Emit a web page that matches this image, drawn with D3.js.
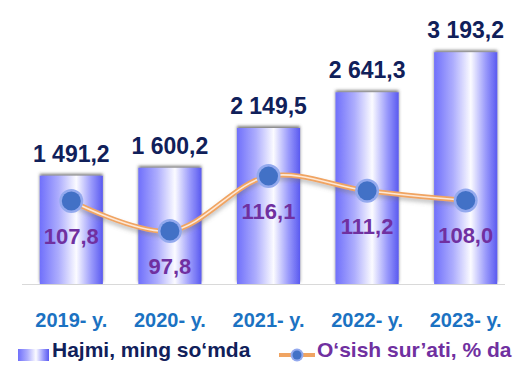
<!DOCTYPE html>
<html>
<head>
<meta charset="utf-8">
<script src="https://cdn.jsdelivr.net/npm/d3@7"></script>
<style>
  body { margin: 0; background: #fff; }
  svg { display: block; font-family: "Liberation Sans", Arial, sans-serif; font-weight: bold; }
</style>
</head>
<body>
<svg id="chart" width="528" height="373"></svg>
<script>
//DATA//////////////////////////////////
var years = ["2019- y.", "2020- y.", "2021- y.", "2022- y.", "2023- y."];
var volume = [1491.2, 1600.2, 2149.5, 2641.3, 3193.2];
var growth = [107.8, 97.8, 116.1, 111.2, 108.0];
var legendLabels = ["Hajmi, ming so\u2018mda", "O\u2018sish sur\u2019ati, % da"];

//SETUP/////////////////////////////////
var svg = d3.select("#chart");
var baseY = 284;

var locale = d3.formatLocale({ decimal: ",", thousands: " ", grouping: [3] });
var fmt = locale.format(",.1f");

var x = d3.scaleBand()
  .domain(years)
  .range([22, 515])
  .paddingInner(0.36)
  .paddingOuter(0.18);

var yBar = d3.scaleLinear().domain([0, 3500]).range([baseY, 30]);
var yLine = d3.scaleLinear().domain([80, 120]).range([284.4, 164.4]);

var defs = svg.append("defs");

// cylinder-like gradient
var grad = defs.append("linearGradient")
  .attr("id", "barGrad")
  .attr("x1", "0%").attr("x2", "100%").attr("y1", "0%").attr("y2", "0%");
grad.append("stop").attr("offset", "0%").attr("stop-color", "#7070fb");
grad.append("stop").attr("offset", "30%").attr("stop-color", "#adadfd");
grad.append("stop").attr("offset", "58%").attr("stop-color", "#fbfbff");
grad.append("stop").attr("offset", "82%").attr("stop-color", "#9999fb");
grad.append("stop").attr("offset", "100%").attr("stop-color", "#5a5af0");

// soft shadow on top of bars
var shTop = defs.append("filter").attr("id", "shTop")
  .attr("x", "-20%").attr("y", "-20%").attr("width", "140%").attr("height", "140%");
shTop.append("feDropShadow")
  .attr("dx", 0).attr("dy", -2).attr("stdDeviation", 1.8)
  .attr("flood-color", "#444").attr("flood-opacity", 0.7);

// shadow under the line
var shLine = defs.append("filter").attr("id", "shLine")
  .attr("x", "-10%").attr("y", "-30%").attr("width", "120%").attr("height", "160%");
shLine.append("feDropShadow")
  .attr("dx", 0).attr("dy", 3).attr("stdDeviation", 2)
  .attr("flood-color", "#777").attr("flood-opacity", 0.45);

//AXIS LINE/////////////////////////////
svg.append("line")
  .attr("x1", 22).attr("x2", 505)
  .attr("y1", baseY + 0.5).attr("y2", baseY + 0.5)
  .attr("stroke", "#d9d9d9").attr("stroke-width", 1);

//BARS//////////////////////////////////
svg.append("g").selectAll("rect")
  .data(volume)
  .join("rect")
  .attr("x", (d, i) => x(years[i]))
  .attr("y", d => yBar(d))
  .attr("width", x.bandwidth())
  .attr("height", d => baseY - yBar(d))
  .attr("fill", "url(#barGrad)")
  .attr("filter", "url(#shTop)");

svg.append("g").selectAll("text")
  .data(volume)
  .join("text")
  .attr("x", (d, i) => x(years[i]) + x.bandwidth() / 2)
  .attr("y", d => yBar(d) - 14)
  .attr("text-anchor", "middle")
  .attr("font-size", 23)
  .attr("fill", "#10205a")
  .text(d => fmt(d));

//LINE//////////////////////////////////
var cx = (d, i) => x(years[i]) + x.bandwidth() / 2;
var lineGen = d3.line()
  .x(cx)
  .y(d => yLine(d))
  .curve(d3.curveCatmullRom.alpha(0.5));

svg.append("path")
  .datum(growth)
  .attr("d", lineGen)
  .attr("fill", "none")
  .attr("stroke", "#f0a462")
  .attr("stroke-width", 5)
  .attr("filter", "url(#shLine)");
svg.append("path")
  .datum(growth)
  .attr("d", lineGen)
  .attr("fill", "none")
  .attr("stroke", "#fde8d6")
  .attr("stroke-width", 1.6);

var pts = svg.append("g").selectAll("g")
  .data(growth)
  .join("g")
  .attr("transform", (d, i) => "translate(" + cx(d, i) + "," + yLine(d) + ")");
pts.append("circle").attr("r", 12).attr("fill", "#93a9ee");
pts.append("circle").attr("r", 9.5).attr("fill", "#4271c6");

svg.append("g").selectAll("text")
  .data(growth)
  .join("text")
  .attr("x", cx)
  .attr("y", d => yLine(d) + 43)
  .attr("text-anchor", "middle")
  .attr("font-size", 22)
  .attr("fill", "#7030a0")
  .text(d => fmt(d));

//CATEGORY LABELS///////////////////////
svg.append("g").selectAll("text")
  .data(years)
  .join("text")
  .attr("x", d => x(d) + x.bandwidth() / 2)
  .attr("y", 327)
  .attr("text-anchor", "middle")
  .attr("font-size", 20)
  .attr("fill", "#1b72c2")
  .text(d => d);

//LEGEND////////////////////////////////
var lg = svg.append("g");
lg.append("rect")
  .attr("x", 18).attr("y", 349)
  .attr("width", 31).attr("height", 12)
  .attr("fill", "url(#barGrad)");
lg.append("text")
  .attr("x", 52).attr("y", 357)
  .attr("font-size", 21)
  .attr("fill", "#10205a")
  .text(legendLabels[0]);

lg.append("line")
  .attr("x1", 279).attr("x2", 315)
  .attr("y1", 355).attr("y2", 355)
  .attr("stroke", "#f0a462").attr("stroke-width", 4);
lg.append("circle").attr("cx", 297).attr("cy", 355).attr("r", 6.5).attr("fill", "#93a9ee");
lg.append("circle").attr("cx", 297).attr("cy", 355).attr("r", 4.5).attr("fill", "#4271c6");
lg.append("text")
  .attr("x", 317).attr("y", 357)
  .attr("font-size", 21)
  .attr("fill", "#7030a0")
  .text(legendLabels[1]);
</script>
</body>
</html>
